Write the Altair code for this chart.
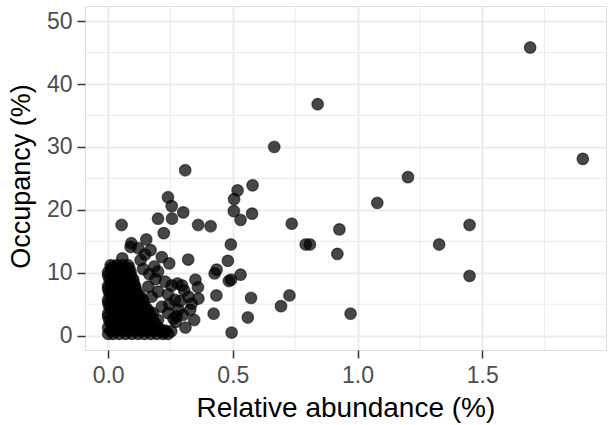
import altair as alt
import pandas as pd

# ---- data ----
# isolated points
abundance_outer = [1.692, 1.903, 0.840, 0.666, 1.202, 1.079, 1.449, 1.327, 1.449, 0.927,
                   0.919, 0.972, 0.792, 0.809, 0.736, 0.727, 0.693,
                   0.579, 0.519, 0.505, 0.504, 0.577, 0.531, 0.492, 0.480, 0.531,
                   0.493, 0.484, 0.435, 0.427, 0.434, 0.573, 0.423, 0.560, 0.495,
                   0.309, 0.240, 0.255, 0.301, 0.256, 0.200, 0.223, 0.361, 0.411,
                   0.054, 0.321]
occupancy_outer = [45.8, 28.1, 36.8, 30.0, 25.2, 21.1, 17.6, 14.5, 9.5, 16.9,
                   13.0, 3.5, 14.5, 14.5, 17.8, 6.4, 4.7,
                   23.9, 23.1, 21.7, 19.8, 19.4, 18.4, 14.5, 11.9, 9.7,
                   8.9, 8.7, 10.5, 9.9, 6.4, 6.0, 3.5, 2.9, 0.5,
                   26.3, 22.0, 20.6, 19.6, 18.6, 18.6, 16.3, 17.6, 17.4,
                   17.6, 12.1]

# points around the dense cluster
abundance_edge = [0.093, 0.090, 0.153, 0.170, 0.121, 0.215, 0.245, 0.057, 0.020,
                  0.148, 0.185, 0.200, 0.165, 0.140, 0.130,
                  0.228, 0.278, 0.296, 0.350, 0.360, 0.305, 0.268, 0.288, 0.322,
                  0.335, 0.362, 0.282, 0.329, 0.262, 0.275, 0.271, 0.345, 0.310,
                  0.215, 0.226, 0.253, 0.161, 0.175, 0.215, 0.200, 0.190, 0.180,
                  0.200, 0.240, 0.300, 0.240, 0.255, 0.245]
occupancy_edge = [14.7, 14.1, 15.3, 13.6, 13.9, 12.5, 11.5, 12.3, 11.0,
                  12.9, 11.0, 10.2, 9.8, 10.6, 12.0,
                  8.6, 8.3, 8.0, 8.9, 7.7, 7.2, 5.7, 5.5, 6.2,
                  5.1, 5.9, 4.1, 4.1, 2.7, 3.1, 2.2, 2.5, 1.3,
                  0.9, 0.6, 0.7, 7.8, 6.2, 4.6, 7.0, 9.0, 3.6,
                  2.5, 3.6, 3.3, 6.6, 8.0, 5.0]

# dense cluster of low-abundance taxa
abundance_core = [0.0, 0.02, 0.045, 0.07, 0.095, 0.12, 0.145, 0.17, 0.195, 0.22, 0.24,
                  0.01, 0.033, 0.058, 0.083, 0.108, 0.133, 0.158, 0.183, 0.208, 0.23,
                  0.0, 0.025, 0.05, 0.075, 0.1, 0.125, 0.15, 0.175, 0.2,
                  0.012, 0.038, 0.063, 0.088, 0.113, 0.138, 0.163, 0.19,
                  0.005, 0.03, 0.055, 0.08, 0.105, 0.13, 0.155, 0.18,
                  0.0, 0.018, 0.043, 0.068, 0.093, 0.118, 0.143, 0.168,
                  0.0, 0.025, 0.05, 0.075, 0.1, 0.125, 0.15, 0.17,
                  0.012, 0.038, 0.063, 0.088, 0.113, 0.138, 0.16,
                  0.005, 0.03, 0.055, 0.08, 0.105, 0.13, 0.15,
                  0.0, 0.018, 0.043, 0.068, 0.093, 0.118, 0.14,
                  0.0, 0.025, 0.05, 0.075, 0.1, 0.125, 0.14,
                  0.012, 0.038, 0.063, 0.088, 0.113, 0.128,
                  0.005, 0.03, 0.055, 0.08, 0.105, 0.118,
                  0.0, 0.018, 0.043, 0.068, 0.093, 0.11,
                  0.0, 0.025, 0.05, 0.075, 0.1, 0.108,
                  0.012, 0.038, 0.063, 0.088, 0.102,
                  0.005, 0.03, 0.055, 0.08, 0.1,
                  0.0, 0.018, 0.043, 0.068, 0.09,
                  0.0, 0.025, 0.05, 0.075, 0.09,
                  0.012, 0.038, 0.063, 0.085,
                  0.01, 0.035, 0.06, 0.08]
occupancy_core = [0.3] * 0 + [0.3, 0.3, 0.3, 0.3, 0.3, 0.3, 0.3, 0.3, 0.3, 0.3, 0.3,
                  0.8, 0.8, 0.8, 0.8, 0.8, 0.8, 0.8, 0.8, 0.8, 0.8,
                  1.3, 1.3, 1.3, 1.3, 1.3, 1.3, 1.3, 1.3, 1.3,
                  1.9, 1.9, 1.9, 1.9, 1.9, 1.9, 1.9, 1.9,
                  2.4, 2.4, 2.4, 2.4, 2.4, 2.4, 2.4, 2.4,
                  3.0, 3.0, 3.0, 3.0, 3.0, 3.0, 3.0, 3.0,
                  3.5, 3.5, 3.5, 3.5, 3.5, 3.5, 3.5, 3.5,
                  4.1, 4.1, 4.1, 4.1, 4.1, 4.1, 4.1,
                  4.6, 4.6, 4.6, 4.6, 4.6, 4.6, 4.6,
                  5.2, 5.2, 5.2, 5.2, 5.2, 5.2, 5.2,
                  5.7, 5.7, 5.7, 5.7, 5.7, 5.7, 5.7,
                  6.3, 6.3, 6.3, 6.3, 6.3, 6.3,
                  6.8, 6.8, 6.8, 6.8, 6.8, 6.8,
                  7.4, 7.4, 7.4, 7.4, 7.4, 7.4,
                  7.9, 7.9, 7.9, 7.9, 7.9, 7.9,
                  8.5, 8.5, 8.5, 8.5, 8.5,
                  9.0, 9.0, 9.0, 9.0, 9.0,
                  9.6, 9.6, 9.6, 9.6, 9.6,
                  10.1, 10.1, 10.1, 10.1, 10.1,
                  10.7, 10.7, 10.7, 10.7,
                  11.2, 11.2, 11.2, 11.2]

x_ticks = [0.0, 0.5, 1.0, 1.5]
y_ticks = [0, 10, 20, 30, 40, 50]
x_minor = [0.25, 0.75, 1.25, 1.75]
y_minor = [5, 15, 25, 35, 45]
x_domain = [-0.0927, 1.996]
y_domain = [-2.27, 52.4]

df = pd.DataFrame({
    "abundance": abundance_core + abundance_edge + abundance_outer,
    "occupancy": occupancy_core + occupancy_edge + occupancy_outer,
})

FONT = "Liberation Sans"
GRID = "#EBEBEB"
xscale = alt.Scale(domain=x_domain, nice=False, zero=False)
yscale = alt.Scale(domain=y_domain, nice=False, zero=False)

x_axis = alt.Axis(
    values=x_ticks, format=".1f", title="Relative abundance (%)",
    grid=True, gridColor=GRID, gridWidth=2, domain=False,
    tickColor="#333333", tickWidth=1.5, tickSize=8,
    labelColor="#4D4D4D", labelFontSize=23, labelFont=FONT,
    labelPadding=6, labelFlush=False,
    titleFont=FONT, titleFontSize=28, titleFontWeight="normal",
    titleColor="black", titleX=260.4, titleY=66,
    titleAlign="center", titleBaseline="alphabetic")
y_axis = alt.Axis(
    values=y_ticks, format="d", title="Occupancy (%)",
    grid=True, gridColor=GRID, gridWidth=2, domain=False,
    tickColor="#333333", tickWidth=1.5, tickSize=8,
    labelColor="#4D4D4D", labelFontSize=23, labelFont=FONT,
    labelPadding=5, labelFlush=False,
    titleFont=FONT, titleFontSize=27, titleFontWeight="normal",
    titleColor="black", titleAngle=270, titleX=-55.5, titleY=170,
    titleAlign="center", titleBaseline="alphabetic")

minor_v = alt.Chart(pd.DataFrame({"abundance": x_minor})).mark_rule(
    color=GRID, strokeWidth=1
).encode(x=alt.X("abundance:Q", scale=xscale, axis=x_axis))

minor_h = alt.Chart(pd.DataFrame({"occupancy": y_minor})).mark_rule(
    color=GRID, strokeWidth=1
).encode(y=alt.Y("occupancy:Q", scale=yscale, axis=y_axis))

points = alt.Chart(df).mark_circle(
    size=135, color="black", fillOpacity=0.72,
    stroke="black", strokeOpacity=0.55, strokeWidth=1.2
).encode(
    x=alt.X("abundance:Q", scale=xscale, axis=x_axis),
    y=alt.Y("occupancy:Q", scale=yscale, axis=y_axis),
)

chart = alt.layer(minor_v, minor_h, points).properties(
    width=521, height=344,
    autosize=alt.AutoSizeParams(type="none"),
    padding={"left": 85, "top": 6, "right": 4, "bottom": 75},
).configure_view(
    stroke="#333333", strokeWidth=1.5
).configure(background="white")

chart.save("out.html", embed_options={"renderer": "svg", "actions": False})
